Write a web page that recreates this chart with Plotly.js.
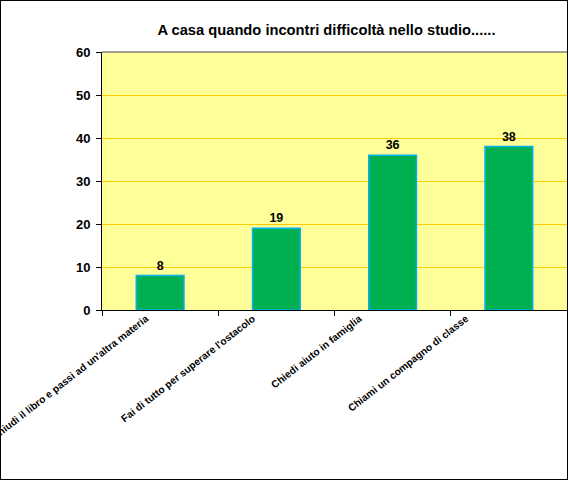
<!DOCTYPE html>
<html>
<head>
<meta charset="utf-8">
<script src="https://cdn.plot.ly/plotly-3.0.1.min.js"></script>
<style>
  body { margin: 0; background: #fff; }
  #chart { width: 566px; height: 478px; border: 1px solid #000; }
</style>
</head>
<body>
<div id="chart"></div>
<script>
// risposte al questionario
const categories = [
    "Chiudi il libro e passi ad un'altra materia",
    "Fai di tutto per superare l'ostacolo",
    "Chiedi aiuto in famiglia",
    "Chiami un compagno di classe"
];
const values = [8, 19, 36, 38];
const yTicks = [0, 10, 20, 30, 40, 50, 60];

const font = "Liberation Sans, Arial, sans-serif";

const bars = {
    type: "bar",
    x: categories,
    y: values,
    text: values.map(String),
    textposition: "outside",
    cliponaxis: false,
    textfont: { family: font, size: 12.5, color: "#000", weight: "bold" },
    marker: { color: "#00B050", line: { color: "#00B0F0", width: 1.5 } },
    hoverinfo: "x+y"
};

// traccia vuota: serve solo a far disegnare l'asse delle etichette
const labelHelper = {
    type: "scatter",
    mode: "none",
    x: categories.map((c, i) => i),
    y: values,
    xaxis: "x2",
    hoverinfo: "skip",
    showlegend: false
};

const layout = {
    width: 566,
    height: 478,
    margin: { l: 101, r: 0, t: 51, b: 169 },
    paper_bgcolor: "#ffffff",
    plot_bgcolor: "#FFFF99",
    bargap: 0.59,
    showlegend: false,
    title: {
        text: "<b>A casa quando incontri difficoltà nello studio......</b>",
        font: { family: font, size: 14.7, color: "#000" },
        x: 0.575, xanchor: "center",
        y: 0.94, yanchor: "middle"
    },
    xaxis: {
        type: "category",
        showline: true, linecolor: "#000", linewidth: 1,
        ticks: "outside", ticklen: 5, tickcolor: "#000",
        tickson: "boundaries",
        showticklabels: false,
        showgrid: false
    },
    // asse solo per le etichette inclinate (in Excel sono un po' più strette)
    xaxis2: {
        overlaying: "x",
        anchor: "y",
        side: "bottom",
        range: [-0.412, 3.946],
        tickmode: "array",
        tickvals: categories.map((c, i) => i),
        ticktext: categories,
        tickangle: -38,
        ticklabeloverflow: "allow",
        ticks: "",
        showline: false,
        showgrid: false,
        zeroline: false,
        tickfont: { family: font, size: 10.2, color: "#000", weight: "bold" }
    },
    yaxis: {
        range: [0, 60],
        tickvals: yTicks,
        showline: true, linecolor: "#000", linewidth: 1,
        ticks: "outside", ticklen: 5, tickcolor: "#000",
        ticklabelstandoff: 3,
        tickfont: { family: font, size: 13, color: "#000", weight: "bold" },
        gridcolor: "#FFCC00", gridwidth: 1,
        zeroline: false
    },
    shapes: [
        { type: "line", xref: "paper", yref: "paper", x0: 0, x1: 1, y0: 1, y1: 1,
          line: { color: "#808080", width: 1.5 } }
    ]
};

Plotly.newPlot("chart", [bars, labelHelper], layout, { displayModeBar: false, staticPlot: true });
</script>
</body>
</html>
